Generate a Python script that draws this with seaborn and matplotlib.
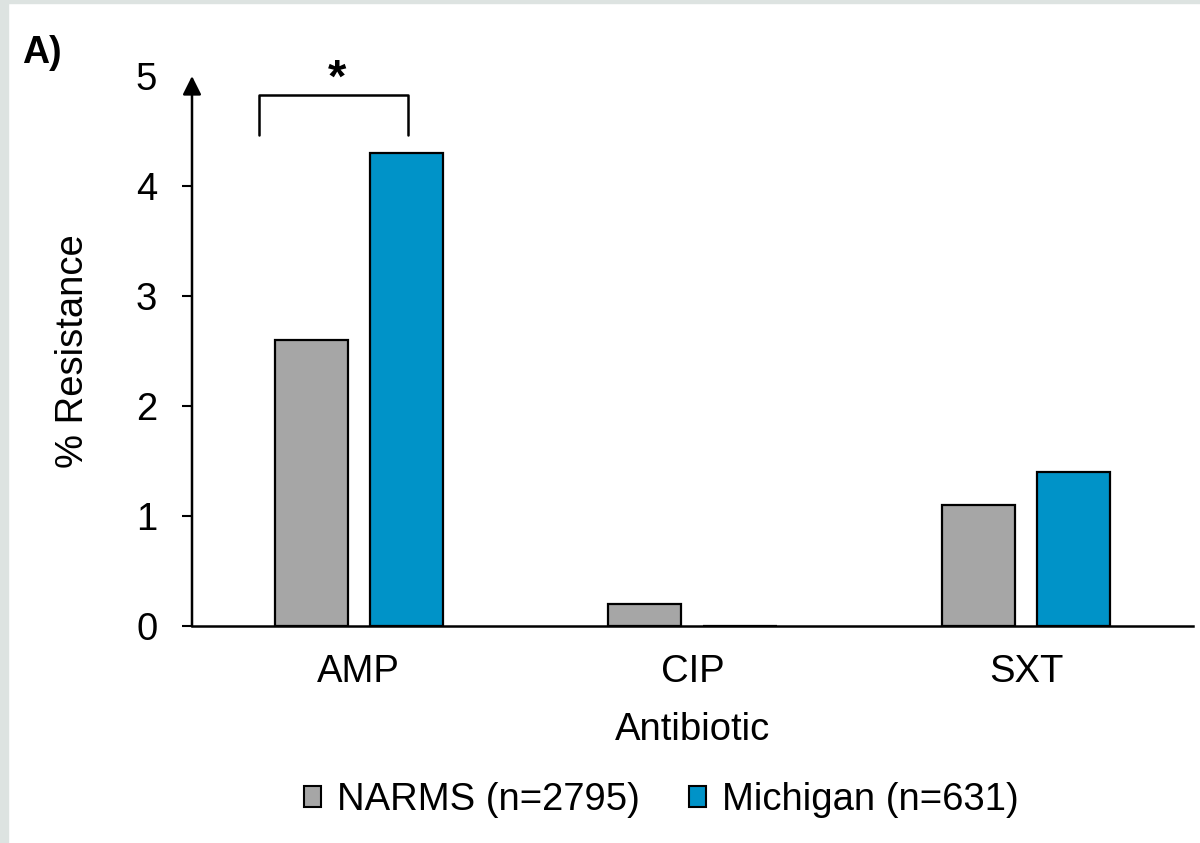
import matplotlib
matplotlib.use('Agg')
import matplotlib.pyplot as plt
import pandas as pd
import seaborn as sns
from matplotlib.patches import Patch, Rectangle

# dados
antibiotics = ['AMP', 'CIP', 'SXT']
sources = ['NARMS (n=2795)', 'Michigan (n=631)']
narms = [2.6, 0.2, 1.1]
michigan = [4.3, 0.0, 1.4]
colors = ['#a6a6a6', '#0093c8']

df = pd.DataFrame({
    'Antibiotic': antibiotics * 2,
    'Source': [sources[0]] * 3 + [sources[1]] * 3,
    'Resistance': narms + michigan,
})

sns.set_theme(style='white')
plt.rcParams['font.family'] = ['Liberation Sans', 'DejaVu Sans']
plt.rcParams['font.size'] = 27.5
plt.rcParams['text.color'] = 'black'
plt.rcParams['axes.labelcolor'] = 'black'
plt.rcParams['xtick.color'] = 'black'
plt.rcParams['ytick.color'] = 'black'

fig = plt.figure(figsize=(12, 8.43), dpi=100)
ax = fig.add_axes([0.160, 0.2574, 0.834, 0.6524])

sns.barplot(data=df, x='Antibiotic', y='Resistance', hue='Source',
            palette=colors, saturation=1, width=0.57, gap=0.23,
            edgecolor='black', linewidth=1.6, legend=False, ax=ax)

ax.set_xlim(-0.5, 2.5)
ax.set_ylim(0, 5)
ax.set_yticks([0, 1, 2, 3, 4, 5])
ax.tick_params(axis='y', labelsize=27.5, length=7, width=1.5,
               direction='out', pad=18, left=True)
ax.tick_params(axis='x', labelsize=27.5, length=0, pad=20)
ax.yaxis.get_major_ticks()[-1].tick1line.set_visible(False)
ax.set_xlabel('Antibiotic', fontsize=27.5, labelpad=16)
ax.set_ylabel('% Resistance', fontsize=27.5, labelpad=32)

for s in ['top', 'right', 'left']:
    ax.spines[s].set_visible(False)
ax.spines['bottom'].set_color('black')
ax.spines['bottom'].set_linewidth(1.8)

# eixo y com seta
ax.annotate('', xy=(0, 1), xytext=(0, 0), xycoords='axes fraction',
            arrowprops=dict(arrowstyle='-|>', color='black', lw=1.8,
                            mutation_scale=28, shrinkA=0, shrinkB=0))

# colchete de significancia
ax.plot([-0.30, -0.30, 0.148, 0.148], [4.46, 4.83, 4.83, 4.46],
        color='black', lw=1.8, clip_on=False)
ax.text(-0.066, 4.86, '*', ha='center', va='baseline', fontsize=34,
        fontweight='bold', clip_on=False)

handles = [Patch(facecolor=c, edgecolor='black', linewidth=1.5) for c in colors]
fig.legend(handles, sources, loc='center', bbox_to_anchor=(0.551, 0.051),
           ncol=2, frameon=False, fontsize=27.5, handlelength=0.45,
           handleheight=0.45, handletextpad=0.4, columnspacing=1.3)

fig.text(22 / 1200, 0.925, 'A)', fontsize=27, fontweight='bold',
         ha='left', va='baseline')

# borda cinza da imagem original
fig.add_artist(Rectangle((0, 0), 8 / 1200, 1, transform=fig.transFigure,
                         color='#dde3e1', zorder=-1))
fig.add_artist(Rectangle((0, 1 - 3 / 843), 1, 3 / 843,
                         transform=fig.transFigure, color='#dde3e1', zorder=-1))

fig.savefig('out.png', dpi=100)
